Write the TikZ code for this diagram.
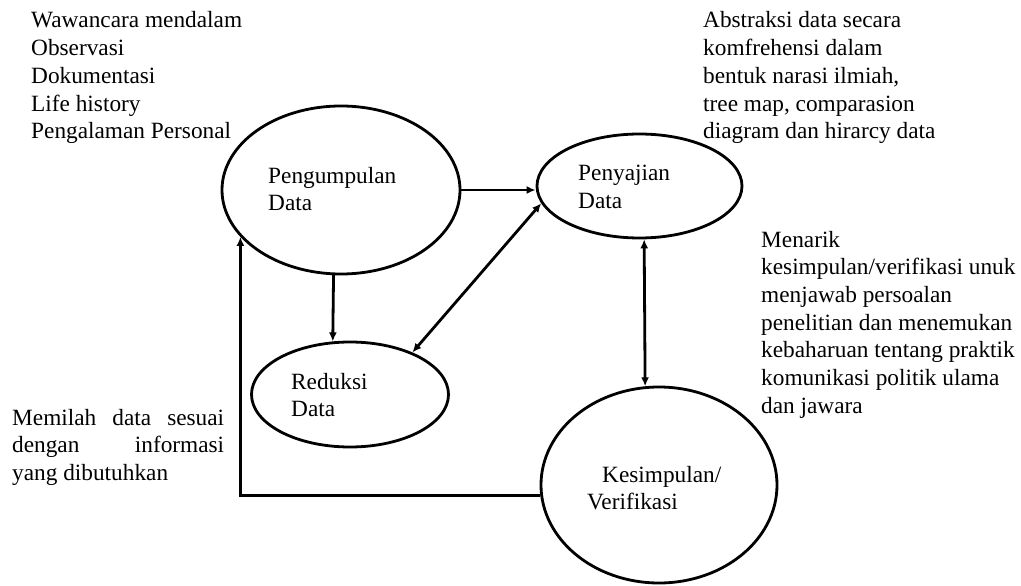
\documentclass[tikz,border=0pt]{standalone}
\usepackage{fontspec}
\setmainfont{Liberation Serif}
\usetikzlibrary{shapes.geometric,arrows.meta}
\tikzset{
  stage/.style={ellipse, draw, line width=2.8pt, inner sep=0pt},
  txt/.style={anchor=base west, inner sep=0pt, font=\fontsize{23.3}{27.7}\selectfont},
  conn/.style={line width=2.8pt, -{Latex[length=9pt,width=8pt]}},
  conn2/.style={line width=2.8pt, {Latex[length=9pt,width=8pt]}-{Latex[length=9pt,width=8pt]}}
}
\begin{document}
\begin{tikzpicture}[x=1pt,y=-1pt]
\useasboundingbox (0,0) rectangle (1021,586);
% ellipses
\node[stage, minimum width=238pt, minimum height=168pt] (peng) at (341,190) {};
\node[stage, minimum width=205pt, minimum height=104pt] (pen) at (639.5,186) {};
\node[stage, minimum width=197pt, minimum height=105pt] (red) at (350,394.5) {};
\node[stage, minimum width=236pt, minimum height=196pt] (kes) at (659,485) {};
% ellipse labels
\node[txt] (tpeng) at (268,183) {\parbox[t]{150pt}{Pengumpulan\\Data}};
\node[txt] (tpen) at (578,180.5) {\parbox[t]{120pt}{Penyajian\\Data}};
\node[txt] (tred) at (291,389) {\parbox[t]{120pt}{Reduksi\\Data}};
\node[txt] (tkes) at (587,482) {\parbox[t]{150pt}{\hspace*{15pt}Kesimpulan/\\Verifikasi}};
% side texts
\node[txt] (src) at (31,28) {\parbox[t]{240pt}{Wawancara mendalam\\Observasi\\Dokumentasi\\Life history\\Pengalaman Personal}};
\node[txt] (abs) at (703,28) {\parbox[t]{300pt}{Abstraksi data secara\\komfrehensi dalam\\bentuk narasi ilmiah,\\tree map, comparasion\\diagram dan hirarcy data}};
\node[txt] (men) at (761,247) {\parbox[t]{260pt}{Menarik\\kesimpulan/verifikasi unuk\\menjawab persoalan\\penelitian dan menemukan\\kebaharuan tentang praktik\\komunikasi politik ulama\\dan jawara}};
\node[txt] (mem) at (12,425) {\parbox[t]{212pt}{\makebox[212pt][s]{Memilah data sesuai}\\\makebox[212pt][s]{dengan informasi}\\yang dibutuhkan}};
% connectors
\draw[conn] (peng.east) -- (peng.east -| pen.west);
\draw[conn] (peng.-95.4) -- (red.108);
\draw[conn2] (red.34) -- (pen.190.5);
\draw[conn2] (pen.-85) -- (kes.98);
\draw[conn] (kes.185) -| (peng.205);
\end{tikzpicture}
\end{document}
